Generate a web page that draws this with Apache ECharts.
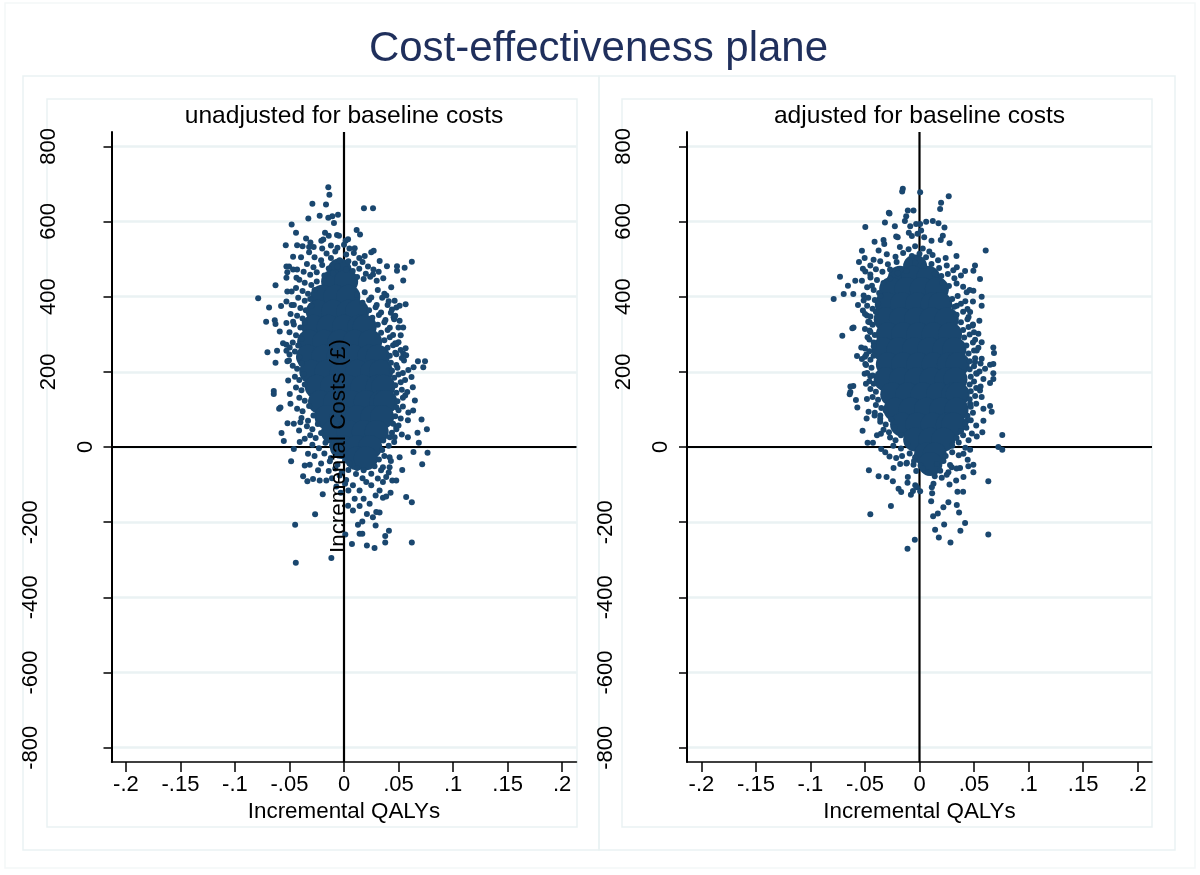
<!DOCTYPE html>
<html><head><meta charset="utf-8">
<script src="https://cdn.jsdelivr.net/npm/echarts@6/dist/echarts.min.js"></script>
<style>html,body{margin:0;padding:0;background:#fff}#c{width:1200px;height:875px}</style></head>
<body><div id="c"></div>
<script>
const chartTitle='Cost-effectiveness plane';
const panelTitles=['unadjusted for baseline costs','adjusted for baseline costs'];
const yAxisTitle='Incremental Costs (£)';
const xTicks=[-0.2,-0.15,-0.1,-0.05,0,0.05,0.1,0.15,0.2];
const xTickLabels=['-.2','-.15','-.1','-.05','0','.05','.1','.15','.2'];
const yTicks=[-800,-600,-400,-200,0,200,400,600,800];
const zeroV=[[0,-838],[0,838]];
const zeroH=[[-0.2132,0],[0.2132,0]];

// Individually readable points, left panel (QALY, cost)
const leftPoints=[[-.0144,691],[-.0134,671],[-.029,647],[-.0165,645],[.0183,635],[.0266,635],[-.0223,615],[-.0327,608],[-.0144,610],[-.0107,614],[-.0055,618],[-.0092,596],[-.048,592],[-.044,570],[-.0174,570],[-.014,562],[-.0064,564],[-.0046,562],[.0116,577],[.0147,565],[-.0348,555],[-.0308,544],[-.0534,537],[-.043,537],[-.038,534],[-.032,532],[-.0278,532],[-.032,518],[-.0467,506],[-.0394,505],[-.0208,549],[-.019,552],[.0015,549],[.0037,553],[.0098,529],[.025,518],[.0272,522],[.019,508],[.0327,495],[.0394,481],[.0486,481],[.0486,469],[.0556,477],[.0622,493],[.0543,443],[.0318,466],[.0266,459],[-.0528,480],[-.0504,480],[-.0467,472],[-.043,472],[-.052,465],[-.0528,450],[-.0436,450],[-.0628,430],[-.052,414],[-.048,414],[-.0787,396],[-.0528,387],[-.048,378],[-.0577,375],[-.0687,371],[-.0714,333],[-.0635,337],[-.0628,327],[-.0589,307],[-.0528,330],[-.0467,333],[-.0559,276],[-.0528,272],[-.0498,265],[-.0702,252],[-.0614,256],[-.0528,256],[-.0628,224],[-.0519,228],[-.0505,230],[.0433,425],[.0388,403],[.0464,389],[.048,371],[.0565,380],[.051,376],[.0455,345],[.051,336],[.0543,318],[.0565,263],[.0543,249],[.048,247],[.0678,228],[.0743,228],[.0727,212],[.0638,212],[.055,230],[.048,274],
[-.0644,149],[-.0644,141],[-.0512,177],[-.0497,141],[-.0491,115],[-.0595,102],[-.0583,105],[-.0518,63],[-.046,62],[-.0573,37],[-.0552,16],[-.046,-5],[-.0485,-38],[-.04,66],[-.0412,44],[-.0406,13],[-.036,22],[-.033,-18],[-.036,-49],[-.0314,-47],[-.0375,-78],[-.0336,-91],[-.0284,-85],[-.0238,-62],[-.0223,-89],[-.0162,-89],[-.0195,-126],[-.0265,-179],[-.0448,-207],[-.0442,-308],[-.0116,-295],[.0073,-258],[.021,-262],[.028,-269],[.0378,-254],[.0622,-254],[.0378,-237],[.0412,-223],[.0143,-231],[.0168,-231],[.0012,-233],[.0128,-207],[.0168,-198],[.029,-209],[.0265,-187],[.0326,-174],[.0296,-173],[.021,-178],[.0082,-169],[.0143,-157],[.0037,-156],[.018,-138],[.0098,-138],[.0235,-151],[.029,-129],[.0357,-135],[.0387,-132],[.0427,-122],[.057,-133],[.0622,-147],[.0534,-61],[.051,-27],[.0717,-46],[.0766,-15],[.0637,-13],[.0686,11],[.0586,26],[.0674,38],[.076,47],[.0711,73],[.065,124],[.0631,159],[.0619,186],[.0561,137],[.048,106],[.0634,97],[.0586,71],[.0479,53],[.0464,26],[.0418,-27],[.0479,-89],[.0443,-89],[.0326,-116],[.025,-102],[.0204,-93],[.0143,-116],[.0082,-102],[.0357,-93],[.0387,-80],[.0357,-54],[.0418,-54]];

// Closely packed points around the cloud's edge, left panel (estimated)
const leftDense=[[-.02,528],[-.012,536],[-.006,530],[0,538],[.005,528],[-.016,515],[-.008,520],[.002,512],[.009,516],[.014,503],[-.027,505],[-.021,497],[-.012,503],[-.004,497],[.004,494],[.01,488],[.017,492],[.022,480],[-.034,487],[-.028,478],[-.02,484],[-.014,475],[-.006,480],[.002,472],[.008,468],[.014,474],[.02,461],[.027,472],[-.037,466],[-.031,458],[-.025,465],[-.018,456],[-.01,462],[.012,452],[.018,447],[.024,453],[.03,442],[.036,449],
[-.041,445],[-.036,437],[-.03,431],[-.025,440],[-.044,423],[-.038,415],[-.033,408],[-.027,418],[-.042,397],[-.036,389],[-.031,394],[-.046,378],[-.04,370],[-.035,364],[-.03,376],[-.049,354],[-.043,349],[-.038,342],[-.046,326],[-.04,318],[-.036,331],[-.05,305],[-.044,297],[-.039,288],[-.047,278],[-.042,270],[-.05,246],[-.045,254],[-.041,239],[-.047,216],[-.043,208],[-.039,222],[-.045,187],[-.041,178],[-.037,194],[-.044,158],[-.039,151],[-.036,166],[-.041,131],[-.036,123],[-.043,102],[-.038,95],[-.032,109],[-.039,77],[-.033,70],[-.028,84],[-.034,55],[-.029,47],[-.024,61],[-.031,31],[-.026,24],[-.021,37],[-.029,6],[-.023,-3],[-.017,11],[-.011,4],[-.027,-24],[-.018,-17],[-.012,-29],[-.006,-22],[-.021,-44],[-.013,-38],[-.006,-47],[.001,-36],[.005,-44],[-.014,-64],[-.008,-57],[-.002,-68],[.004,-61],[-.011,-83],[-.004,-76],[.002,-88],[-.007,-105],[.001,-98],[-.003,-122],[.004,-116],
[.011,-72],[.017,-83],[.012,-56],[.018,-62],[.025,-71],[.031,-84],[.028,-51],[.034,-62],[.041,-68],[.032,-33],[.037,-24],[.043,-37],[.035,-8],[.041,3],[.036,17],[.042,26],[.046,13],[.044,38],[.048,47],[.053,33],[.045,62],[.05,57],[.047,82],[.052,76],[.05,98],[.054,108],[.059,92],[.049,122],[.054,131],[.048,144],[.053,152],[.058,146],[.047,164],[.052,172],[.046,184],[.05,193],[.056,178],[.044,203],[.049,211],[.054,197],[.059,205],[.043,224],[.048,218],[.053,237],[.042,243],[.047,251],[.052,258],[.057,244],[.04,264],[.045,271],[.05,279],[.037,284],[.042,292],[.047,276],[.052,297],[.034,304],[.04,311],[.045,298],[.05,318],[.031,325],[.037,332],[.042,317],[.046,340],[.026,344],[.032,351],[.038,338],[.043,357],[.047,349],[.023,364],[.029,372],[.034,358],[.04,378],[.044,366],[.017,384],[.023,391],[.03,378],[.035,397],[.041,388],[.012,405],[.019,412],[.025,398],[.031,418],[.037,408]];

// Solid mass at the cloud's centre, left panel, where single points cannot be read
const leftMass=[[-.004,470],[-.01,440],[.002,440],[-.02,400],[-.008,400],[.004,400],[-.024,360],[-.01,360],[.004,360],[.012,360],[-.028,320],[-.014,320],[0,320],[.014,320],[.019,320],[-.032,280],[-.018,280],[-.004,280],[.01,280],[.024,280],[-.033,240],[-.019,240],[-.005,240],[.009,240],[.023,240],[.031,240],[-.03,200],[-.016,200],[-.002,200],[.012,200],[.026,200],[.034,200],[-.025,160],[-.011,160],[.003,160],[.017,160],[.031,160],[.036,160],[-.022,120],[-.008,120],[.006,120],[.02,120],[.034,120],[.038,120],[-.016,80],[-.002,80],[.012,80],[.026,80],[.035,80],[-.01,40],[.004,40],[.018,40],[.03,40],[-.002,0],[.012,0],[.024,0],[.012,-30],[.02,-30]];

// Individually readable points, right panel
const rightPoints=[[-.0153,687],[-.0159,680],[.0006,678],[.0268,667],[.0198,650],[.0189,633],[-.0107,629],[-.0055,629],[-.0281,623],[-.0275,621],[-.0122,614],[-.0134,601],[-.0317,597],[-.0226,587],[-.0497,585],[-.0085,587],[-.0031,593],[.0006,593],[.0061,599],[.0122,601],[.0174,595],[.0229,584],[.0015,576],[-.0098,570],[-.0018,567],[-.007,561],[.0214,562],[.0195,551],[.011,549],[.0275,542],[.0043,558],[-.0214,560],[-.02,558],[-.0412,546],[-.033,551],[-.0323,540],[-.0528,522],[-.0375,523],[.0339,508],[.0607,523],[-.0503,503],[-.0555,492],[-.0421,498],[-.0451,483],[-.0519,474],[-.0497,467],[-.0451,459],[-.0528,442],[-.0589,442],[-.0729,453],[-.0656,429],[-.0695,407],[-.0607,407],[-.0787,394],[-.0436,429],[-.0512,403],[-.0564,378],[-.0512,390],[-.0519,363],[-.0482,350],[-.0616,316],[-.0605,318],[-.0708,296],[-.0458,332],[-.0458,310],[-.0476,292],[-.0534,265],[-.0573,242],[-.0488,246],[-.0528,234],[-.0497,221],[-.0421,243],[.0509,483],[.0494,469],[.0418,468],[.0342,478],[.0555,447],[.0494,416],[.0433,412],[.057,400],[.057,376],[.0342,376],[.0464,359],[.0549,336],[.0488,323],[.054,301],[.057,279],[.0677,265],[.0683,250],[.057,235],[.0647,219],[.0677,221],[.0601,208],[.0525,257],[.0509,226],
[-.0503,195],[-.0451,188],[-.0491,168],[-.0607,162],[-.0634,161],[-.0634,146],[-.064,140],[-.0583,125],[-.057,105],[-.0467,94],[-.0482,128],[-.0412,84],[-.0485,76],[-.036,75],[-.0522,43],[-.0476,11],[-.0427,11],[-.039,31],[-.0354,35],[-.0351,-5],[-.0314,-14],[-.0275,-25],[-.0214,-29],[-.0177,-45],[-.0116,-42],[-.0055,-47],[-.0238,-56],[-.0464,-62],[-.0375,-78],[-.0302,-80],[-.0244,-91],[-.0107,-80],[-.011,-95],[-.0192,-111],[-.0168,-120],[-.0079,-127],[-.0039,-102],[-.0024,-107],[.0006,-118],[-.006,-117],[-.0262,-157],[-.0451,-179],[-.011,-271],[-.0043,-247],[.0143,-220],[.0177,-241],[.0284,-254],[.0375,-223],[.0631,-233],[.0418,-202],[.0226,-206],[.0125,-184],[.0168,-177],[.0363,-174],[.0342,-154],[.0219,-160],[.0265,-147],[.0107,-144],[.0116,-123],[.0113,-107],[.0128,-98],[.0204,-82],[.0275,-100],[.0348,-119],[.04,-119],[.0336,-89],[.0403,-80],[.0631,-91],[.0494,-67],[.0494,-47],[.0448,-51],[.0372,-56],[.0296,-54],[.0265,-67],[.0442,-34],[.0403,-18],[.0464,-7],[.0723,0],[.0759,-7],[.0759,32],[.0525,28],[.0576,39],[.0586,70],[.0662,94],[.0647,109],[.0586,102],[.057,133],[.0555,150],[.0647,170],[.0677,181],[.0586,181],[.0677,196],[.0525,195],[.0464,115],[.0433,70]];

// Closely packed points around the cloud's edge, right panel (estimated)
const rightDense=[[-.018,532],[-.01,526],[-.004,534],[.003,528],[.009,520],[-.03,513],[-.022,506],[-.015,516],[-.007,508],[0,514],[.006,505],[.012,511],[.017,497],[.024,503],[-.036,494],[-.029,486],[-.021,492],[-.012,484],[-.004,490],[.004,482],[.011,487],[.018,476],[.025,483],[.031,470],[-.04,473],[-.034,466],[-.027,472],[-.02,462],[-.012,468],[.014,461],[.02,455],[.026,460],[.032,449],[.038,456],[-.045,451],[-.039,444],[-.033,436],[-.027,448],[.021,436],[.027,428],[.034,435],[.04,426],[.046,418],
[-.048,425],[-.042,418],[-.037,410],[-.047,397],[-.041,391],[-.036,402],[-.048,376],[-.043,368],[-.038,382],[-.05,354],[-.045,347],[-.04,360],[-.047,333],[-.043,325],[-.05,314],[-.045,306],[-.041,298],[-.046,286],[-.042,278],[-.05,262],[-.046,255],[-.042,268],[-.05,240],[-.045,232],[-.049,218],[-.044,211],[-.048,197],[-.043,190],[-.046,175],[-.042,168],[-.045,154],[-.04,147],[-.043,133],[-.038,126],[-.04,112],[-.035,104],[-.041,91],[-.036,84],[-.031,97],[-.036,67],[-.031,60],[-.026,73],[-.033,46],[-.028,39],[-.023,52],[-.027,25],[-.022,18],[-.017,31],[-.024,3],[-.017,-4],[-.011,8],[-.016,-24],[-.009,-17],[-.004,-27],[-.012,-44],[-.005,-37],[.001,-49],[-.003,-64],[.003,-57],[.008,-68],
[.014,-78],[.019,-63],[.025,-74],[.016,-45],[.022,-37],[.028,-48],[.034,-57],[.024,-24],[.03,-14],[.036,-22],[.03,3],[.036,12],[.042,-2],[.034,24],[.04,31],[.045,18],[.038,42],[.043,51],[.048,36],[.042,62],[.047,71],[.052,57],[.044,83],[.049,91],[.047,107],[.052,115],[.046,127],[.051,136],[.047,148],[.052,157],[.046,166],[.05,174],[.056,161],[.047,187],[.052,196],[.046,207],[.05,215],[.055,201],[.046,228],[.051,236],[.056,222],[.045,249],[.05,257],[.043,270],[.049,278],[.054,264],[.041,291],[.046,299],[.051,285],[.04,311],[.045,319],[.05,305],[.038,332],[.044,340],[.049,326],[.034,352],[.04,360],[.045,346],[.032,373],[.038,381],[.044,367],[.049,387],[.03,394],[.035,402],[.042,388]];

// Solid mass at the cloud's centre, right panel
const rightMass=[[-.004,480],[-.018,450],[-.006,450],[.008,450],[-.026,420],[-.012,420],[.002,420],[.016,420],[-.03,380],[-.016,380],[-.002,380],[.012,380],[.019,380],[-.031,340],[-.017,340],[-.003,340],[.011,340],[.025,340],[-.029,300],[-.015,300],[-.001,300],[.013,300],[.028,300],[-.033,260],[-.019,260],[-.005,260],[.009,260],[.023,260],[.032,260],[-.029,220],[-.015,220],[-.001,220],[.013,220],[.027,220],[.035,220],[-.031,180],[-.017,180],[-.003,180],[.011,180],[.025,180],[.033,180],[-.025,140],[-.011,140],[.003,140],[.017,140],[.031,140],[.035,140],[-.022,100],[-.008,100],[.006,100],[.02,100],[.034,100],[-.016,60],[-.002,60],[.012,60],[.026,60],[.031,60],[-.004,20],[.01,20],[.022,20],[.006,-20],[.014,-20],[.01,-45]];

const navy='#1a476f', titleNavy='#1f2f5c', grid='#eaf2f3', ink='#000', font='"Liberation Sans",Arial,sans-serif';
const panelLefts=[111.5,687];
const rect=(x,y,w,h,c)=>({type:'rect',silent:true,z:-1,shape:{x,y,width:w,height:h},style:{fill:'none',stroke:c,lineWidth:1.5}});
const yLabel=v=>{const s=String(v);return s.length===1?`{a|${s}}`:s.length===3?`{b|${s}}`:`{c|${s}}`;};
const richBase={fontSize:22,fontFamily:font,color:ink};
const subtitle=(t,x)=>({text:t,left:x,top:104,padding:0,textAlign:'center',textStyle:{color:ink,fontSize:24.6,fontWeight:'normal',fontFamily:font}});

const option={
  animation:false,backgroundColor:'#fff',
  title:[
    {text:chartTitle,left:598.5,top:28,padding:0,textAlign:'center',textStyle:{color:titleNavy,fontSize:42,fontWeight:'normal',fontFamily:font}},
    subtitle(panelTitles[0],344),subtitle(panelTitles[1],919.5)
  ],
  graphic:[rect(5,3,1190,865,'#f4f7f8'),rect(23,76,576,774,grid),rect(599,76,576,774,grid),rect(47,99,530,728,grid),rect(622,99,530,728,grid),
    {type:'text',silent:true,z:100,x:339,y:446,rotation:Math.PI/2,style:{text:yAxisTitle,fill:ink,font:'22.4px '+font,align:'center',verticalAlign:'middle'}}],
  grid:panelLefts.map(l=>({left:l,width:465,top:132,height:630})),
  xAxis:[0,1].map(i=>({
    type:'value',gridIndex:i,min:-0.2132,max:0.2132,
    name:'Incremental QALYs',nameLocation:'middle',nameGap:38.5,
    nameTextStyle:{fontSize:22.4,color:ink,fontFamily:font},
    axisLine:{onZero:false,lineStyle:{color:ink,width:1.5}},
    axisTick:{show:true,length:10,customValues:xTicks,lineStyle:{color:ink,width:1.5}},
    axisLabel:{show:true,customValues:xTicks,margin:12,fontSize:22,color:ink,fontFamily:font,hideOverlap:false,
      formatter:v=>xTickLabels[xTicks.findIndex(t=>Math.abs(t-v)<1e-6)]},
    splitLine:{show:false}
  })),
  yAxis:[0,1].map(i=>({
    type:'value',gridIndex:i,min:-838,max:838,
    axisLine:{onZero:false,lineStyle:{color:ink,width:2}},
    axisTick:{show:true,length:8,customValues:yTicks,lineStyle:{color:ink,width:1.5}},
    axisLabel:{show:true,customValues:yTicks,rotate:90,margin:26,align:'center',verticalAlign:'middle',hideOverlap:false,
      formatter:yLabel,
      rich:{a:{...richBase},b:{...richBase,padding:[0,0,74,0]},c:{...richBase,padding:[0,0,110,0]}}},
    splitLine:{show:true,lineStyle:{color:grid,width:2.5}}
  })),
  series:[0,1].flatMap(i=>[
    {type:'line',xAxisIndex:i,yAxisIndex:i,data:zeroV,symbol:'none',silent:true,z:3,lineStyle:{color:'#000',width:2.2}},
    {type:'line',xAxisIndex:i,yAxisIndex:i,data:zeroH,symbol:'none',silent:true,z:3,lineStyle:{color:'#000',width:2.2}},
    {type:'scatter',xAxisIndex:i,yAxisIndex:i,data:i?rightMass:leftMass,symbolSize:24,silent:true,z:4,itemStyle:{color:navy,opacity:1}},
    {type:'scatter',xAxisIndex:i,yAxisIndex:i,data:(i?rightPoints:leftPoints).concat(i?rightDense:leftDense),symbolSize:6,silent:true,z:5,itemStyle:{color:navy,opacity:1}}
  ])
};
echarts.init(document.getElementById('c'),null,{renderer:'canvas'}).setOption(option);
</script></body></html>
